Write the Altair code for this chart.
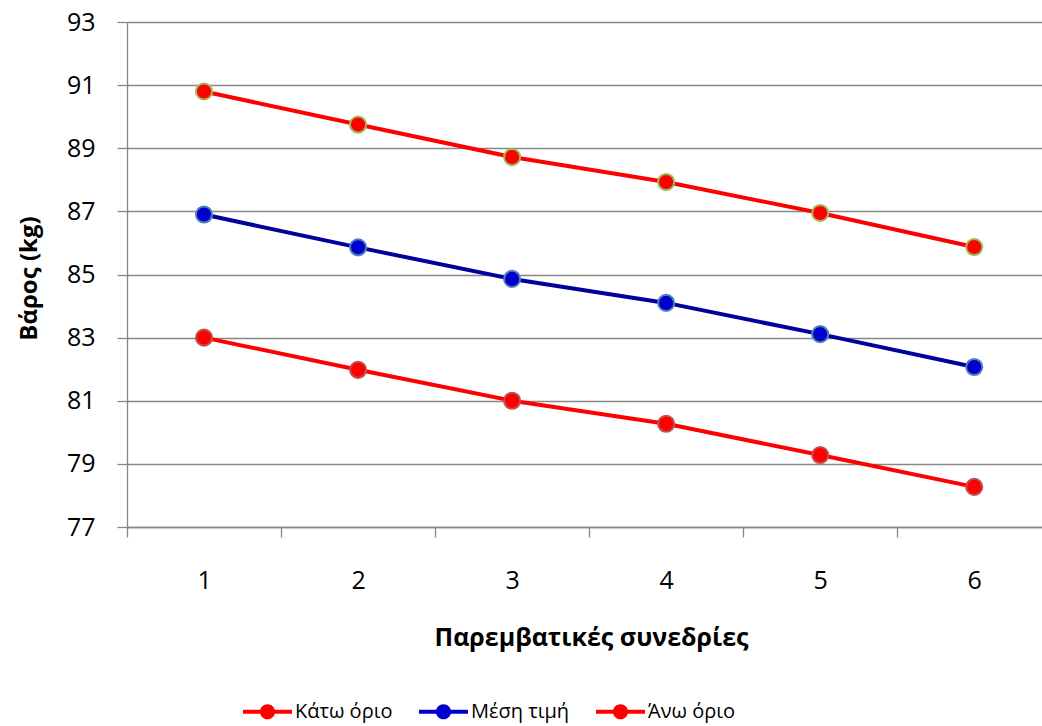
import altair as alt
import pandas as pd

# Weight per intervention session: lower limit, mean, upper limit
sessions = [1, 2, 3, 4, 5, 6]
lower = [83.0, 81.98, 81.0, 80.27, 79.28, 78.27]
mean = [86.9, 85.86, 84.86, 84.1, 83.11, 82.07]
upper = [90.8, 89.75, 88.72, 87.93, 86.95, 85.87]

series_names = ["Κάτω όριο", "Μέση τιμή", "Άνω όριο"]
line_colors = ["#FF0000", "#00009C", "#FF0000"]
marker_fills = ["#FF0000", "#0000CC", "#FF0000"]
marker_edges = ["#C0504D", "#4F81BD", "#9BBB59"]

y_ticks = [77, 79, 81, 83, 85, 87, 89, 91, 93]
x_ticks = [0.5, 1, 1.5, 2, 2.5, 3, 3.5, 4, 4.5, 5, 5.5, 6]

rows = []
for name, vals in zip(series_names, [lower, mean, upper]):
    for s, v in zip(sessions, vals):
        rows.append({"session": s, "weight": v, "series": name})
df = pd.DataFrame(rows)

FONT = "Open Sans"
GRID = "#878787"

x_enc = alt.X(
    "session:Q",
    scale=alt.Scale(domain=[0.5, 6.44], nice=False, zero=False),
    axis=alt.Axis(
        values=x_ticks,
        grid=False,
        labelExpr="datum.value % 1 === 0 ? format(datum.value, 'd') : ''",
        labelOverlap=False,
        labelFlush=False,
        labelFont=FONT,
        labelFontSize=25,
        labelColor="#000000",
        labelBaseline="alphabetic",
        labelPadding=51,
        tickSize=10,
        tickColor=GRID,
        tickWidth=1.3,
        tickOpacity={"condition": {"test": "datum.value % 1 === 0", "value": 0}, "value": 1},
        domainColor=GRID,
        domainWidth=1.3,
        title="Παρεμβατικές συνεδρίες",
        titleFont=FONT,
        titleFontSize=25,
        titleFontWeight="bold",
        titleColor="#000000",
        titleBaseline="alphabetic",
        titleX=464,
        titleY=118,
    ),
)

y_enc = alt.Y(
    "weight:Q",
    scale=alt.Scale(domain=[77, 93], nice=False, zero=False),
    axis=alt.Axis(
        values=y_ticks,
        grid=True,
        gridColor=GRID,
        gridWidth=1.3,
        labelFont=FONT,
        labelFontSize=25,
        labelColor="#000000",
        labelPadding=22,
        tickSize=10,
        tickColor=GRID,
        tickWidth=1.3,
        domainColor=GRID,
        domainWidth=1.3,
        title="Βάρος (kg)",
        titleFont=FONT,
        titleFontSize=24,
        titleFontWeight="bold",
        titleColor="#000000",
        titleBaseline="alphabetic",
        titleX=-91,
        titleY=256,
    ),
)

# legend symbol: a short thick line with a round marker on it
marker_path = (
    "M-1,-0.08 H1 V0.08 H-1 Z "
    "M0.31,0 A0.31,0.31 0 1,1 -0.31,0 A0.31,0.31 0 1,1 0.31,0 Z"
)

legend = alt.Legend(
    title=None,
    orient="none",
    legendX=116,
    legendY=665,
    direction="horizontal",
    padding=0,
    symbolType=marker_path,
    symbolSize=2401,
    symbolStrokeWidth=0,
    symbolOpacity=1,
    labelFont=FONT,
    labelFontSize=20,
    labelColor="#000000",
    labelOffset=3,
    columnPadding=26,
)

lines = alt.Chart(df).mark_line(strokeWidth=4).encode(
    x=x_enc,
    y=y_enc,
    color=alt.Color(
        "series:N",
        sort=series_names,
        scale=alt.Scale(range=line_colors),
        legend=None,
    ),
)

points = alt.Chart(df).mark_point(filled=True, size=260, opacity=1, strokeWidth=2).encode(
    x=x_enc,
    y=y_enc,
    fill=alt.Fill(
        "series:N",
        sort=series_names,
        scale=alt.Scale(range=marker_fills),
        legend=legend,
    ),
    stroke=alt.Stroke(
        "series:N",
        sort=series_names,
        scale=alt.Scale(range=marker_edges),
        legend=None,
    ),
)

chart = (
    alt.layer(lines, points)
    .properties(
        width=915,
        height=505,
        autosize=alt.AutoSizeParams(type="none"),
        padding={"left": 127, "top": 22, "right": 0, "bottom": 199},
    )
    .configure_view(stroke=None)
    .configure(background="#FFFFFF")
)

chart.save("out.html", embed_options={"renderer": "svg", "actions": False})
